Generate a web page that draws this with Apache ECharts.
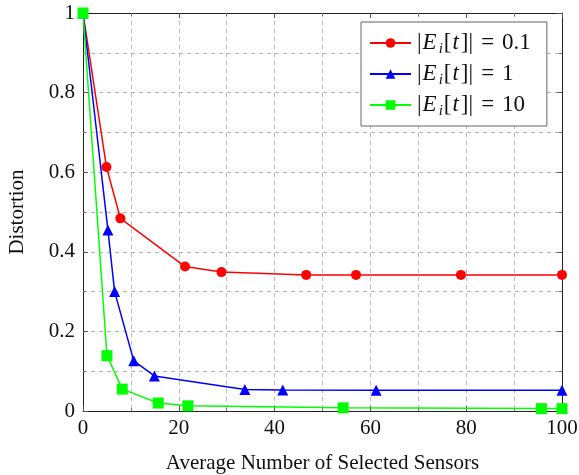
<!DOCTYPE html>
<html>
<head>
<meta charset="utf-8">
<script src="https://cdn.jsdelivr.net/npm/echarts@6/dist/echarts.min.js"></script>
<style>html,body{margin:0;padding:0;background:#fff;}#c{width:579px;height:475px;}</style>
</head>
<body>
<div id="c"></div>
<script>
const xTicks = [0, 20, 40, 60, 80, 100];
const yTicks = [0, 0.2, 0.4, 0.6, 0.8, 1];
const seriesNames = ['0.1', '1', '10'];
const redX = [0, 4.9, 7.8, 21.3, 28.9, 46.6, 57.0, 78.9, 100];
const redY = [1, 0.613, 0.484, 0.363, 0.349, 0.342, 0.342, 0.342, 0.342];
const blueX = [0, 5.2, 6.6, 10.6, 14.9, 33.8, 41.7, 61.2, 100];
const blueY = [1, 0.455, 0.300, 0.126, 0.088, 0.054, 0.053, 0.052, 0.052];
const greenX = [0, 5.0, 8.2, 15.7, 21.9, 54.3, 95.7, 100];
const greenY = [1, 0.139, 0.055, 0.020, 0.013, 0.008, 0.006, 0.006];

const FONT = "'Liberation Serif', serif";
const zip = (xs, ys) => xs.map((x, i) => [x, ys[i]]);

const chart = echarts.init(document.getElementById('c'), null, {renderer: 'canvas'});
const gridDash = {color: '#b8b8b8', type: [4, 4], width: 1};
const axisBase = (extra) => Object.assign({
  type: 'value',
  axisLine: {show: true, onZero: false, lineStyle: {color: '#222', width: 1}},
  axisTick: {show: true, inside: true, length: 5, lineStyle: {color: '#555'}},
  minorTick: {show: true, splitNumber: 2, length: 3, lineStyle: {color: '#777'}},
  splitLine: {show: true, lineStyle: gridDash},
  minorSplitLine: {show: true, lineStyle: gridDash},
}, extra);

const legendFmt = (name) => '|{it|E}{sub|i}[{it|t}]|{eq|=}' + name;
const T = {fontFamily: FONT, fontSize: 23, color: '#111', lineHeight: 26, verticalAlign: 'middle'};

chart.setOption({
  animation: false,
  backgroundColor: '#fff',
  textStyle: {fontFamily: FONT},
  grid: {left: 83, right: 17, top: 13, bottom: 64, show: false, containLabel: false, outerBoundsMode: 'none'},
  legend: {
    show: true,
    orient: 'vertical',
    left: 361, top: 22,
    padding: [7, 16, 7, 8],
    itemGap: 3,
    itemWidth: 41, itemHeight: 12,
    backgroundColor: '#fff',
    borderColor: '#666', borderWidth: 1, borderRadius: 0,
    data: seriesNames,
    formatter: legendFmt,
    textStyle: Object.assign({}, T, {
      padding: [0, 0, 0, 1],
      rich: {
        it: Object.assign({}, T, {fontStyle: 'italic', padding: [0, 2, 0, 1]}),
        sub: Object.assign({}, T, {fontSize: 15, fontStyle: 'italic', padding: [13, 1, 0, 0]}),
        eq: Object.assign({}, T, {padding: [0, 8, 0, 8]})
      }
    })
  },
  xAxis: [
    axisBase({
      min: 0, max: 100, interval: 20, position: 'bottom',
      name: 'Average Number of Selected Sensors', nameLocation: 'middle', nameGap: 42,
      nameTextStyle: {fontFamily: FONT, fontSize: 21, color: '#111'},
      axisLabel: {fontFamily: FONT, fontSize: 21, color: '#111', margin: 7, formatter: (v) => xTicks.includes(v) ? String(v) : ''}
    }),
    axisBase({
      min: 0, max: 100, interval: 20, position: 'top',
      axisLabel: {show: false}, splitLine: {show: false}, minorSplitLine: {show: false}
    })
  ],
  yAxis: [
    axisBase({
      min: 0, max: 1, interval: 0.2, position: 'left',
      name: 'Distortion', nameLocation: 'middle', nameGap: 55, nameRotate: 90,
      nameTextStyle: {fontFamily: FONT, fontSize: 21, color: '#111'},
      axisLabel: {fontFamily: FONT, fontSize: 21, color: '#111', margin: 8, formatter: (v) => {
        const t = yTicks.find(k => Math.abs(k - v) < 1e-9);
        return t === undefined ? '' : String(t);
      }}
    }),
    axisBase({
      min: 0, max: 1, interval: 0.2, position: 'right',
      axisLabel: {show: false}, splitLine: {show: false}, minorSplitLine: {show: false}
    })
  ],
  series: [
    {name: seriesNames[0], type: 'line', data: zip(redX, redY), symbol: 'circle', symbolSize: 10,
     color: '#ff0000', lineStyle: {width: 1.5, color: '#ff0000'}, itemStyle: {color: '#ff0000'}, z: 3},
    {name: seriesNames[1], type: 'line', data: zip(blueX, blueY), symbol: 'triangle', symbolSize: 11,
     color: '#0000ff', lineStyle: {width: 1.5, color: '#0000ff'}, itemStyle: {color: '#0000ff'}, z: 4},
    {name: seriesNames[2], type: 'line', data: zip(greenX, greenY), symbol: 'rect', symbolSize: 11,
     color: '#00ff00', lineStyle: {width: 1.5, color: '#00ff00'}, itemStyle: {color: '#00ff00'}, z: 5}
  ]
});
</script>
</body>
</html>
